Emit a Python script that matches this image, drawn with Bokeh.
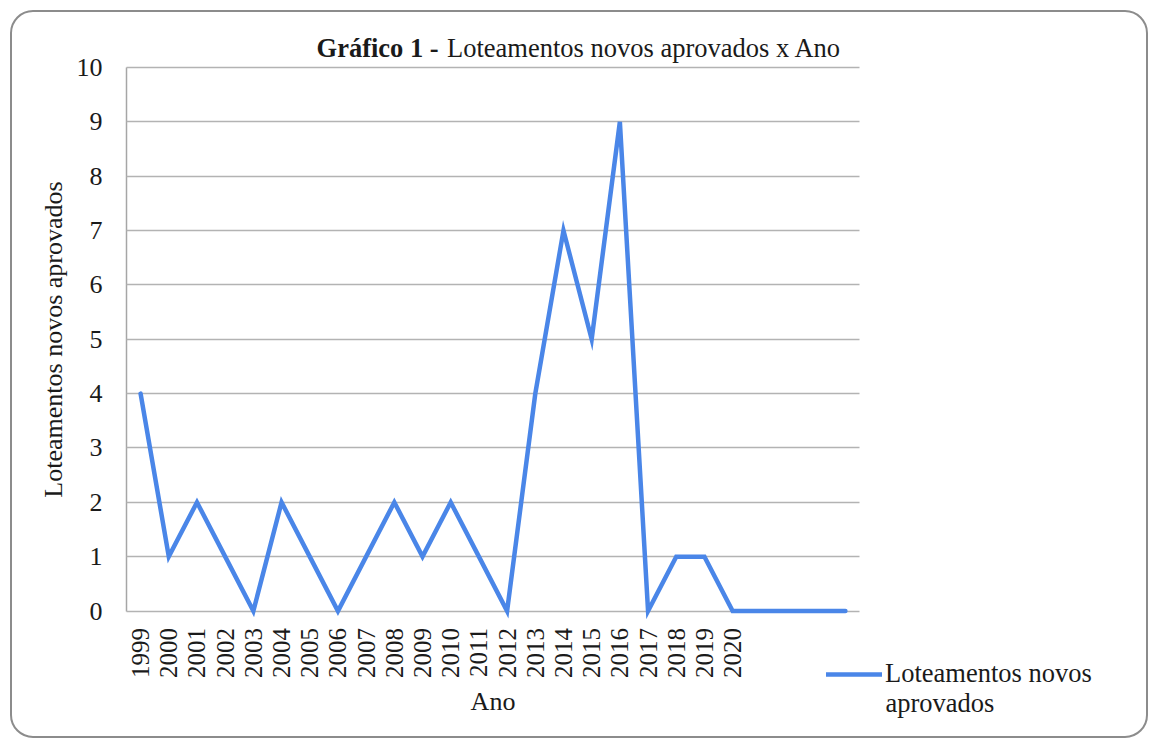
from math import pi
from bokeh.plotting import figure
from bokeh.models import (Range1d, FixedTicker, Label, Legend, LegendItem,
                          ColumnDataSource)
from bokeh.embed import file_html
from bokeh.resources import INLINE

# ---- data ----
anos = ["1999", "2000", "2001", "2002", "2003", "2004", "2005", "2006",
        "2007", "2008", "2009", "2010", "2011", "2012", "2013", "2014",
        "2015", "2016", "2017", "2018", "2019", "2020", "", "", "", ""]
valores = [4, 1, 2, 1, 0, 2, 1, 0, 1, 2, 1, 2, 1, 0, 4, 7, 5, 9, 0, 1, 1,
           0, 0, 0, 0, 0]
y_ticks = [0, 1, 2, 3, 4, 5, 6, 7, 8, 9, 10]

titulo_negrito = "Gráfico 1 -"
titulo = "Loteamentos novos aprovados x Ano"
rotulo_x = "Ano"
rotulo_y = "Loteamentos novos aprovados"
serie_l1 = "Loteamentos novos"
serie_l2 = "aprovados"

FONT = "Liberation Serif"
TXT = "#1a1a1a"
BLUE = "#4a86e8"
GRID = "#b3b3b3"

n = len(anos)
pos = list(range(n))
src = ColumnDataSource(dict(x=pos, y=valores))

# layout geometry (pixels)
W, H = 1140, 730
ML, MR, MT, MB = 10, 10, 10, 10
AREA_L = 117                       # pixel column (from fig left) of the plot area
PLOT_W = 733                       # width of the category area
PX_X = PLOT_W / n                  # pixels per category
PX_Y = 54.35                       # pixels per unit on y
Y0 = 601.5                         # pixel row (from fig top) of y=0
frame_w = W - ML - MR
frame_top, frame_bot = MT, H - MB
x_start = -0.5 - (AREA_L - ML) / PX_X
x_end = x_start + frame_w / PX_X
y_start = -(frame_bot - Y0) / PX_Y
y_end = (Y0 - frame_top) / PX_Y

p = figure(width=W, height=H, output_backend="svg", toolbar_location=None,
           x_range=Range1d(x_start, x_end), y_range=Range1d(y_start, y_end),
           min_border_left=ML, min_border_right=MR, min_border_top=MT,
           min_border_bottom=MB)
p.outline_line_color = None
p.background_fill_color = None
p.border_fill_color = None
p.styles = {"transform": "translate(9px, 9px)",
            "outline": "2px solid #8c8c8c", "outline-offset": "-3px",
            "border-radius": "24px"}
p.xgrid.visible = False
p.ygrid.visible = False

# y axis, fixed at the left edge of the plot area (inward ticks = grid lines)
p.yaxis.fixed_location = -0.5
p.yaxis.ticker = FixedTicker(ticks=y_ticks)
p.yaxis.bounds = (0, 10)
p.yaxis.major_tick_line_color = GRID
p.yaxis.major_tick_line_width = 1.5
p.yaxis.major_tick_out = 0
p.yaxis.major_tick_in = PLOT_W
p.yaxis.minor_tick_line_color = None
p.yaxis.axis_line_color = "#a6a6a6"
p.yaxis.axis_line_width = 1.5
p.yaxis.major_label_text_font = FONT
p.yaxis.major_label_text_font_size = "26px"
p.yaxis.major_label_text_color = TXT
p.yaxis.major_label_standoff = 24
p.yaxis.axis_label = rotulo_y
p.yaxis.axis_label_text_font = FONT
p.yaxis.axis_label_text_font_size = "26px"
p.yaxis.axis_label_text_font_style = "normal"
p.yaxis.axis_label_text_color = TXT
p.yaxis.axis_label_standoff = 6

# x axis, fixed at y = 0
p.xaxis.fixed_location = 0
p.xaxis.bounds = (-0.5, n - 0.5)
p.xaxis.ticker = FixedTicker(ticks=pos)
p.xaxis.major_label_overrides = {i: a for i, a in enumerate(anos)}
p.xaxis.major_label_orientation = pi / 2
p.xaxis.axis_line_color = None
p.xaxis.major_tick_line_color = None
p.xaxis.minor_tick_line_color = None
p.xaxis.major_tick_out = 0
p.xaxis.major_tick_in = 0
p.xaxis.major_label_text_font = FONT
p.xaxis.major_label_text_font_size = "25px"
p.xaxis.major_label_text_color = TXT
p.xaxis.major_label_standoff = 17
p.xaxis.axis_label = rotulo_x
p.xaxis.axis_label_text_font = FONT
p.xaxis.axis_label_text_font_size = "26px"
p.xaxis.axis_label_text_font_style = "normal"
p.xaxis.axis_label_text_color = TXT
p.xaxis.axis_label_standoff = 5

r = p.line("x", "y", source=src, line_color=BLUE, line_width=4.5,
           line_join="miter", line_cap="round", level="overlay")

legend = Legend(items=[LegendItem(label=serie_l1, renderers=[r])],
                location=(700 + AREA_L - ML, 40), border_line_color=None,
                background_fill_alpha=0, padding=0, margin=0,
                glyph_width=56, glyph_height=26, label_standoff=3,
                label_text_font=FONT, label_text_font_size="26.5px",
                label_text_color=TXT)
p.add_layout(legend, "center")
p.add_layout(Label(x=26.42, y=-1.70, text=serie_l2, text_font=FONT,
                   text_font_size="26.5px", text_color=TXT, text_align="left",
                   text_baseline="alphabetic"))

p.add_layout(Label(x=6.24, y=10.35, text=titulo_negrito, text_font=FONT,
                   text_font_size="26.5px", text_font_style="bold",
                   text_color=TXT, text_align="left",
                   text_baseline="alphabetic"))
p.add_layout(Label(x=10.87, y=10.35, text=titulo, text_font=FONT,
                   text_font_size="26.5px", text_color=TXT, text_align="left",
                   text_baseline="alphabetic"))

open("out.html", "w").write(file_html(p, INLINE))
